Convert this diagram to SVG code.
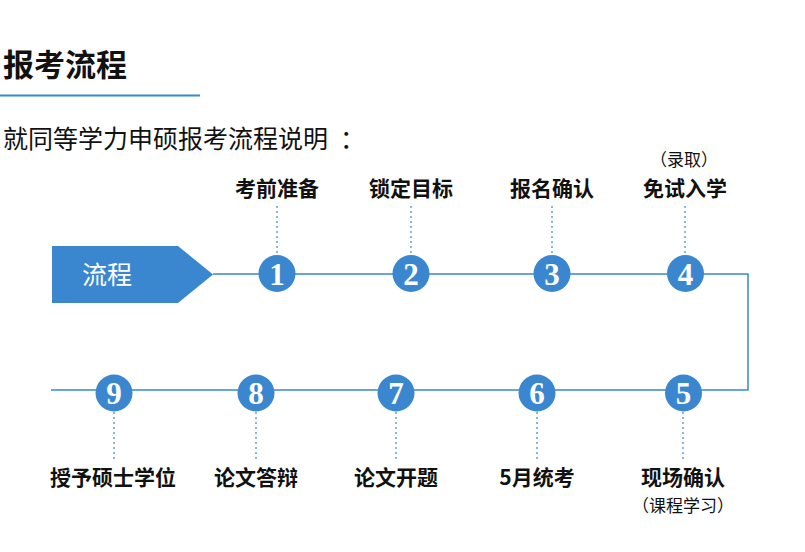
<svg xmlns="http://www.w3.org/2000/svg" width="805" height="552" viewBox="0 0 805 552">
<style>
.t{font-family:"Noto Sans CJK SC","Noto Sans",sans-serif;fill:#111}
.lb{font-size:21px;font-weight:bold;text-anchor:middle}
.sm{font-size:17px;text-anchor:middle}
.c{fill:#3a87cf}
.n{font-family:"Liberation Serif","DejaVu Serif",serif;font-weight:bold;font-size:31px;fill:#fff;text-anchor:middle}
.ln{stroke:#3a87cf;stroke-width:1.5;fill:none}
.dt{stroke:#3a87cf;stroke-width:1.2;stroke-dasharray:2 3;fill:none}
</style>
<rect width="805" height="552" fill="#fff"/>
<g id="header">
<text class="t" x="3" y="76" font-size="31" font-weight="bold">报考流程</text>
<line x1="0" y1="95.5" x2="200" y2="95.5" stroke="#3a87cf" stroke-width="2"/>
<text class="t" x="3" y="148" font-size="25">就同等学力申硕报考流程说明<tspan dx="12">：</tspan></text>
</g>
<g id="connectors">
<polyline class="ln" points="213,274 748,274 748,390 51,390"/>
<line class="dt" x1="277" y1="206" x2="277" y2="255"/>
<line class="dt" x1="411" y1="206" x2="411" y2="255"/>
<line class="dt" x1="552" y1="206" x2="552" y2="255"/>
<line class="dt" x1="685" y1="206" x2="685" y2="255"/>
<line class="dt" x1="114" y1="412" x2="114" y2="462"/>
<line class="dt" x1="256" y1="412" x2="256" y2="462"/>
<line class="dt" x1="396" y1="412" x2="396" y2="462"/>
<line class="dt" x1="537" y1="412" x2="537" y2="462"/>
<line class="dt" x1="683" y1="412" x2="683" y2="462"/>
</g>
<g id="start">
<polygon class="c" points="52,246 178,246 213,274.5 178,303 52,303"/>
<text class="t" x="82" y="284" font-size="25" style="fill:#fff">流程</text>
</g>
<g id="step1"><circle class="c" cx="277" cy="273.5" r="18.5"/><text class="n" x="277" y="284.5">1</text><text class="t lb" x="277" y="195.5">考前准备</text></g>
<g id="step2"><circle class="c" cx="411" cy="273.5" r="18.5"/><text class="n" x="411" y="284.5">2</text><text class="t lb" x="411" y="195.5">锁定目标</text></g>
<g id="step3"><circle class="c" cx="552" cy="273.5" r="18.5"/><text class="n" x="552" y="284.5">3</text><text class="t lb" x="552" y="195.5">报名确认</text></g>
<g id="step4"><circle class="c" cx="685.5" cy="273.5" r="18.5"/><text class="n" x="685.5" y="284.5">4</text><text class="t lb" x="685" y="195.5">免试入学</text><text class="t sm" x="684" y="166">（录取）</text></g>
<g id="step5"><circle class="c" cx="683.5" cy="393" r="18.5"/><text class="n" x="683.5" y="404">5</text><text class="t lb" x="683" y="485">现场确认</text><text class="t sm" x="683" y="512">（课程学习）</text></g>
<g id="step6"><circle class="c" cx="537" cy="393" r="18.5"/><text class="n" x="537" y="404">6</text><text class="t lb" x="537" y="485">5月统考</text></g>
<g id="step7"><circle class="c" cx="396" cy="393" r="18.5"/><text class="n" x="396" y="404">7</text><text class="t lb" x="396" y="485">论文开题</text></g>
<g id="step8"><circle class="c" cx="256" cy="393" r="18.5"/><text class="n" x="256" y="404">8</text><text class="t lb" x="256" y="485">论文答辩</text></g>
<g id="step9"><circle class="c" cx="114" cy="393" r="18.5"/><text class="n" x="114" y="404">9</text><text class="t lb" x="113" y="485">授予硕士学位</text></g>
</svg>
